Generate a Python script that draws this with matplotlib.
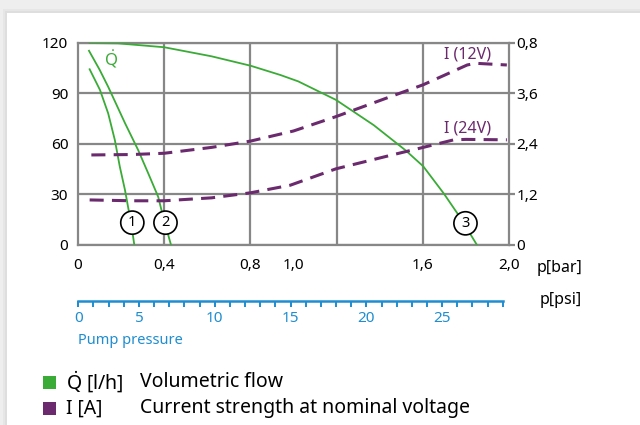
import matplotlib.pyplot as plt
from matplotlib.patches import Rectangle
from matplotlib.ticker import FixedLocator, MultipleLocator

# pump curves, Q [l/h] against pressure p [bar]
p_curve1 = [0.054, 0.102, 0.140, 0.171, 0.194, 0.218, 0.249, 0.261]
q_curve1 = [104.2, 91.9, 78.0, 62.1, 46.3, 32.4, 10.6, 0.0]

p_curve2 = [0.051, 0.10, 0.140, 0.218, 0.279, 0.326, 0.372, 0.395, 0.431]
q_curve2 = [115.2, 104.0, 93.8, 72.2, 56.2, 42.3, 28.4, 16.5, 0.0]

p_curve3 = [0.054, 0.186, 0.400, 0.620, 0.801, 0.939, 1.022, 1.197, 1.372, 1.520, 1.602,
            1.697, 1.760, 1.800, 1.850]
q_curve3 = [119.8, 119.6, 117.3, 111.9, 106.3, 100.8, 97.0, 86.0, 71.0, 56.0, 46.5,
            30.4, 18.6, 10.5, 0.0]

# current I [A] against pressure p [bar]
p_i12 = [0.062, 0.25, 0.4, 0.62, 0.801, 1.0, 1.196, 1.473, 1.602, 1.806, 1.845, 1.99]
i_12v = [2.13, 2.14, 2.17, 2.31, 2.46, 2.70, 3.04, 3.56, 3.80, 4.27, 4.31, 4.27]

p_i24 = [0.054, 0.25, 0.4, 0.62, 0.801, 0.985, 1.197, 1.473, 1.602, 1.744, 1.80, 1.99]
i_24v = [1.06, 1.04, 1.04, 1.11, 1.23, 1.41, 1.80, 2.15, 2.31, 2.49, 2.50, 2.49]

bar_ticks = [0, 0.4, 0.8, 1.0, 1.6, 2.0]
bar_labels = ['0', '0,4', '0,8', '1,0', '1,6', '2,0']
bar_grid = [0.4, 0.8, 1.2, 1.6]
q_ticks = [0, 30, 60, 90, 120]
i_ticks = [0, 1.2, 2.4, 3.6, 4.8]
i_labels = ['0', '1,2', '2,4', '3,6', '0,8']

# psi scale as printed: 28 tick steps, labels sit on ticks 0, 4, 9, 14, 19, 24
psi_steps = 28
psi_label_pos = [0, 4, 9, 14, 19, 24]
psi_labels = ['0', '5', '10', '15', '20', '25']

GREEN = '#3aab36'
PURPLE = '#6b2a6e'
BLUE = '#1f8dd0'
GRID = '#878787'

plt.rcParams['font.family'] = ['Noto Sans', 'DejaVu Sans']
plt.rcParams['mathtext.fontset'] = 'custom'
plt.rcParams['mathtext.rm'] = 'Noto Sans'

QDOT = r'$\dot{\mathrm{Q}}$'

fig = plt.figure(figsize=(6.4, 4.25), dpi=100, facecolor='#eeeeee')
W, H = 640, 425


def fx(px):
    return px / W


def fy(py):
    return 1 - py / H


# card background with a soft shadow
for off, col in [(4, '#e6e6e6'), (2, '#dedede')]:
    fig.patches.append(Rectangle((fx(7 - off), 0), 1, fy(13 - off), transform=fig.transFigure,
                                 facecolor=col, edgecolor='none', zorder=-3))
fig.patches.append(Rectangle((fx(7), 0), 1, fy(13), transform=fig.transFigure,
                             facecolor='white', edgecolor='none', zorder=-2))

ax = fig.add_axes([fx(78), fy(244.5), fx(509 - 78), (244.5 - 42.7) / H])
ax.set_facecolor('none')
ax.set_xlim(0, 2.0)
ax.set_ylim(0, 120)
ax.xaxis.remove_overlapping_locs = False
ax.set_xticks(bar_ticks)
ax.set_xticklabels(bar_labels)
ax.xaxis.set_minor_locator(FixedLocator(bar_grid))
ax.set_yticks(q_ticks)
ax.grid(axis='x', which='minor', color=GRID, lw=1.6)
ax.grid(axis='y', which='major', color=GRID, lw=1.6)
ax.tick_params(axis='x', which='both', length=0, pad=10, labelsize=11)
ax.tick_params(axis='y', length=0, pad=7, labelsize=11)
for s in ax.spines.values():
    s.set_color(GRID)
    s.set_linewidth(1.6)

ax.plot(p_curve1, q_curve1, color=GREEN, lw=1.3, zorder=3)
ax.plot(p_curve2, q_curve2, color=GREEN, lw=1.3, zorder=3)
ax.plot(p_curve3, q_curve3, color=GREEN, lw=1.3, zorder=3)
ax.text(0.153, 110.0, QDOT, color=GREEN, fontsize=12, ha='center', va='center')

circ = dict(boxstyle='circle,pad=0.28', fc='white', ec='black', lw=1.2)
for lab, x, y in [('1', 0.252, 13.0), ('2', 0.406, 13.0), ('3', 1.798, 12.6)]:
    ax.text(x, y, lab, fontsize=10.5, ha='center', va='center', bbox=circ, zorder=5)

ax2 = ax.twinx()
ax2.set_ylim(0, 4.8)
ax2.set_yticks(i_ticks)
ax2.set_yticklabels(i_labels)
ax2.tick_params(axis='y', length=4.5, width=1.6, color=GRID, pad=1, labelsize=11)
for s in ax2.spines.values():
    s.set_visible(False)
dash = (0, (4.6, 2.7))
ax2.plot(p_i12, i_12v, color=PURPLE, lw=2.2, linestyle=dash, zorder=2)
ax2.plot(p_i24, i_24v, color=PURPLE, lw=2.2, linestyle=dash, zorder=2)
ax2.text(1.81, 4.51, 'I (12V)', color=PURPLE, fontsize=11.5, ha='center', va='center')
ax2.text(1.81, 2.76, 'I (24V)', color=PURPLE, fontsize=11.5, ha='center', va='center')

fig.text(fx(537), fy(268), 'p[bar]', fontsize=11.5, va='center', ha='left')

# psi scale
step_px = 15.16
axp = fig.add_axes([fx(78.3), fy(301), fx(509 - 78.3), 0.01])
axp.set_facecolor('none')
axp.set_xlim(0, (509 - 78.3) / step_px)
axp.set_yticks([])
for k in ['top', 'left', 'right']:
    axp.spines[k].set_visible(False)
axp.spines['bottom'].set_color(BLUE)
axp.spines['bottom'].set_linewidth(1.8)
axp.spines['bottom'].set_bounds(0, psi_steps)
axp.xaxis.set_minor_locator(MultipleLocator(1))
axp.xaxis.remove_overlapping_locs = False
axp.set_xticks(psi_label_pos)
axp.set_xticklabels(psi_labels)
axp.tick_params(axis='x', which='both', direction='out', length=4, width=1.4, color=BLUE,
                labelcolor=BLUE, labelsize=11, pad=3)
fig.text(fx(540), fy(300), 'p[psi]', fontsize=11.5, va='center', ha='left')
fig.text(fx(77.5), fy(340.5), 'Pump pressure', fontsize=10.5, color=BLUE, va='center', ha='left')

# legend
for py, col, sym, desc in [(382, GREEN, QDOT + ' [l/h]', 'Volumetric flow'),
                           (408.5, PURPLE, 'I [A]', 'Current strength at nominal voltage')]:
    fig.patches.append(Rectangle((fx(43), fy(py + 6.5)), 13 / W, 13 / H, transform=fig.transFigure,
                                 facecolor=col, edgecolor='none'))
    fig.text(fx(66), fy(py), sym, fontsize=14, va='center', ha='left')
    fig.text(fx(140), fy(py), desc, fontsize=14, va='center', ha='left')

fig.savefig('out.png', dpi=100, facecolor=fig.get_facecolor())
